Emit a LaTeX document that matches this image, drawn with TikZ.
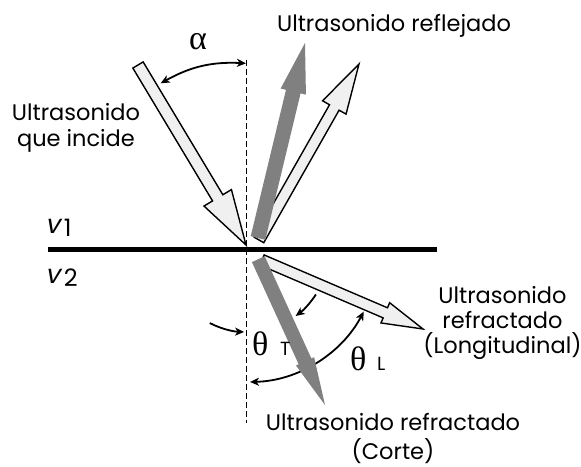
\documentclass[tikz,border=0pt]{standalone}
\usepackage{fontspec}
\setmainfont{Poppins}
\newfontfamily\grk{Liberation Serif}
\newfontfamily\slantsans[FakeSlant=0.22]{Poppins}
\usetikzlibrary{calc,arrows.meta}
\definecolor{lightfill}{HTML}{F0F0F0}
\definecolor{beamgray}{HTML}{808080}
\tikzset{
  hollowbeam/.style={draw=black, line width=1.4pt, fill=lightfill, line join=miter},
  graybeam/.style={fill=beamgray, draw=none},
  anglemark/.style={line width=1.8pt, -{Stealth[length=9pt,width=8pt,inset=2.5pt]}},
  anglemarkboth/.style={line width=1.8pt, {Stealth[length=9pt,width=8pt,inset=2.5pt]}-{Stealth[length=9pt,width=8pt,inset=2.5pt]}},
  lbl/.style={font=\fontsize{22.5}{26.5}\selectfont, align=center, inner sep=0pt},
  greek/.style={font=\grk\fontsize{34}{34}\selectfont, inner sep=0pt},
  vlbl/.style={inner sep=0pt, anchor=base west},
  sublbl/.style={inner sep=0pt, anchor=base west, font=\fontsize{19}{19}\selectfont},
}
% #1 name, #2 style, #3 tail, #4 tip, #5 half shaft, #6 half head, #7 head length
\newcommand\blockarrow[7]{%
  \coordinate (#1-base) at ($(#4)!#7!(#3)$);
  \path[#2] ($(#3)!#5!90:(#4)$) -- ($(#1-base)!#5!90:(#4)$) -- ($(#1-base)!#6!90:(#4)$)
    -- (#4) -- ($(#1-base)!#6!-90:(#4)$) -- ($(#1-base)!#5!-90:(#4)$) -- ($(#3)!#5!-90:(#4)$) -- cycle;}
\begin{document}
\begin{tikzpicture}[x=1pt,y=1pt]
\useasboundingbox (0,0) rectangle (581,466);
% key points
\coordinate (O) at (247,216);
\coordinate (dtop) at (246.7,406);
\coordinate (dbot) at (246.7,43);
\coordinate (ifl) at (48,216);
\coordinate (ifr) at (437,216);
\coordinate (inc-tail) at (138,401);
\coordinate (inc-tip) at (246,221);
\coordinate (rg-tail) at (258,228);
\coordinate (rg-tip) at (305,423);
\coordinate (rh-tail) at (259,226);
\coordinate (rh-tip) at (359,402);
\coordinate (rl-tail) at (262,206);
\coordinate (rl-tip) at (423,137);
\coordinate (rt-tail) at (258.3,206.8);
\coordinate (rt-tip) at (325,61);
% normal and interface
\draw[line width=1.3pt, dash pattern=on 6pt off 3pt] (dtop) -- (dbot);
\draw[line width=5pt] (ifl) -- (ifr);
% reflected beams
\blockarrow{rh}{hollowbeam}{rh-tail}{rh-tip}{5.5pt}{13.5pt}{50pt}
\blockarrow{rg}{graybeam}{rg-tail}{rg-tip}{7.5pt}{13pt}{50pt}
% incident beam
\blockarrow{inc}{hollowbeam}{inc-tail}{inc-tip}{6pt}{16pt}{55pt}
% refracted longitudinal
\blockarrow{rl}{hollowbeam}{rl-tail}{rl-tip}{5.5pt}{11pt}{41pt}
% alpha arc
\coordinate (a1) at (160.7,382.7);
\coordinate (a2) at (246,402.7);
\draw[anglemarkboth] (a1) to[bend left=16] (a2);
% theta L arc (behind shear beam)
\draw[anglemarkboth] ($(O)+(-88.7:132pt)$) arc[start angle=-88.7, end angle=-27.8, radius=132pt];
% refracted shear
\blockarrow{rt}{graybeam}{rt-tail}{rt-tip}{7pt}{10pt}{48pt}
% theta T marks
\draw[anglemark] ($(O)+(-117:82pt)$) arc[start angle=-117, end angle=-92, radius=82pt];
\draw[anglemark] ($(O)+(-32.8:82pt)$) arc[start angle=-32.8, end angle=-53.6, radius=82pt];
% labels
\node[lbl, anchor=base] (refl) at (394,434.3) {Ultrasonido reflejado};
\node[lbl, anchor=base] (inc) at (76,319.3) {Ultrasonido\\que incide};
\node[lbl, anchor=base, font=\fontsize{22.5}{25}\selectfont] (long) at (502.5,112.7) {Ultrasonido\\refractado\\(Longitudinal)};
\node[lbl, anchor=base] (corte) at (393,7) {Ultrasonido refractado\\[2pt](Corte)};
\node[greek, anchor=base] (alpha) at (198,416) {α};
\node[greek, anchor=base west] (thT) at (252,110) {θ};
\node[sublbl] (thTs) at (280,110) {T};
\node[greek, anchor=base west] (thL) at (350,95) {θ};
\node[sublbl] (thLs) at (377,95) {L};
\node[vlbl] (v1) at (45,232.7) {{\slantsans\fontsize{26}{26}\selectfont v}\hspace{4pt}\raisebox{-3pt}{\fontsize{24}{24}\selectfont 1}};
\node[vlbl] (v2) at (45,182.7) {{\slantsans\fontsize{26}{26}\selectfont v}\hspace{4pt}\raisebox{-3pt}{\fontsize{24}{24}\selectfont 2}};
\end{tikzpicture}
\end{document}
